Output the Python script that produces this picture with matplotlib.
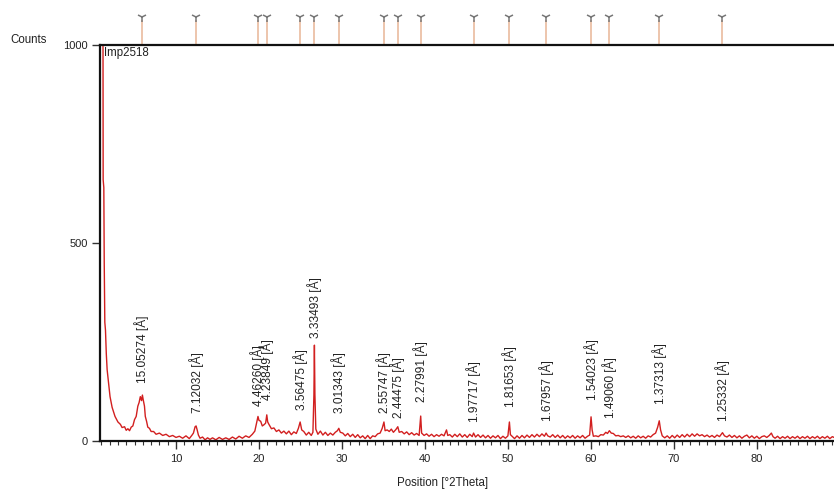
import matplotlib
matplotlib.use("Agg")
import matplotlib.pyplot as plt
from matplotlib.ticker import MultipleLocator, FixedLocator
import matplotlib.transforms as mtransforms

plt.rcParams['font.family'] = ['Liberation Sans', 'DejaVu Sans']

two_theta = [1.00, 1.10, 1.20, 1.22, 1.30, 1.35, 1.42, 1.50, 1.60, 1.70, 1.85, 2.05, 2.30, 2.65, 3.00,
             3.30, 3.50, 3.80, 4.00, 4.20, 4.40, 4.60, 4.80, 5.00, 5.20, 5.40, 5.55, 5.70, 5.85, 5.95,
             6.05, 6.20, 6.30, 6.45, 6.60, 6.80, 7.00, 7.30, 7.60, 8.00, 8.40, 8.80, 9.20, 9.60, 10.0,
             10.4, 10.8, 11.2, 11.6, 11.9, 12.1, 12.3, 12.42, 12.55, 12.7, 12.9, 13.2, 13.5, 13.8, 14.1,
             14.4, 14.8, 15.2, 15.6, 16.0, 16.4, 16.8, 17.2, 17.6, 18.0, 18.4, 18.8, 19.2, 19.5, 19.7,
             19.88, 20.0, 20.2, 20.4, 20.6, 20.8, 20.94, 21.05, 21.2, 21.5, 21.8, 22.1, 22.4, 22.7, 23.0,
             23.3, 23.6, 23.9, 24.2, 24.5, 24.75, 24.96, 25.15, 25.4, 25.7, 26.0, 26.3, 26.5, 26.62, 26.68,
             26.74, 26.85, 27.1, 27.4, 27.7, 28.0, 28.3, 28.6, 28.9, 29.2, 29.45, 29.62, 29.8, 30.1, 30.4,
             30.7, 31.0, 31.3, 31.6, 31.9, 32.2, 32.5, 32.8, 33.1, 33.4, 33.7, 34.0, 34.3, 34.6, 34.85,
             35.06, 35.2, 35.45, 35.7, 35.95, 36.2, 36.5, 36.73, 36.9, 37.2, 37.5, 37.8, 38.1, 38.4, 38.7,
             39.0, 39.3, 39.49, 39.6, 39.9, 40.2, 40.5, 40.8, 41.1, 41.4, 41.7, 42.0, 42.3, 42.6, 42.75,
             43.0, 43.3, 43.6, 43.9, 44.2, 44.5, 44.8, 45.1, 45.4, 45.7, 45.86, 46.1, 46.4, 46.7, 47.0,
             47.3, 47.6, 47.9, 48.2, 48.5, 48.8, 49.1, 49.4, 49.7, 50.0, 50.18, 50.3, 50.5, 50.8, 51.1,
             51.4, 51.7, 52.0, 52.3, 52.6, 52.9, 53.2, 53.5, 53.8, 54.1, 54.4, 54.6, 54.8, 55.1, 55.4,
             55.7, 56.0, 56.3, 56.6, 56.9, 57.2, 57.5, 57.8, 58.1, 58.4, 58.7, 59.0, 59.3, 59.6, 59.85,
             60.02, 60.15, 60.3, 60.6, 60.9, 61.2, 61.5, 61.8, 62.0, 62.23, 62.45, 62.7, 63.0, 63.3, 63.6,
             63.9, 64.2, 64.5, 64.8, 65.1, 65.4, 65.7, 66.0, 66.3, 66.6, 66.9, 67.2, 67.5, 67.8, 68.05,
             68.24, 68.4, 68.6, 68.9, 69.2, 69.5, 69.8, 70.1, 70.4, 70.7, 71.0, 71.3, 71.6, 71.9, 72.2,
             72.5, 72.8, 73.1, 73.4, 73.7, 74.0, 74.3, 74.6, 74.9, 75.2, 75.5, 75.86, 76.1, 76.4, 76.7,
             77.0, 77.3, 77.6, 77.9, 78.2, 78.5, 78.8, 79.1, 79.4, 79.7, 80.0, 80.3, 80.6, 80.9, 81.2,
             81.5, 81.75, 81.95, 82.2, 82.5, 82.8, 83.1, 83.4, 83.7, 84.0, 84.3, 84.6, 84.9, 85.2, 85.5,
             85.8, 86.1, 86.4, 86.7, 87.0, 87.3, 87.6, 87.9, 88.2, 88.5, 88.8, 89.1, 89.4]
counts = [1500, 1300, 1050, 660, 640, 450, 300, 280, 220, 180, 150, 112, 85, 62, 48,
          42, 34, 36, 27, 31, 26, 35, 38, 54, 62, 88, 97, 112, 102, 116,
          104, 88, 62, 50, 35, 32, 24, 24, 17, 20, 14, 17, 11, 14, 9,
          12, 7, 13, 6, 14, 20, 36, 38, 28, 15, 7, 10, 3, 8, 4,
          8, 3, 9, 4, 8, 4, 10, 5, 12, 7, 13, 9, 17, 25, 45,
          62, 52, 50, 38, 41, 45, 66, 48, 42, 31, 33, 24, 28, 20, 25,
          18, 25, 16, 23, 19, 32, 48, 28, 24, 15, 22, 14, 22, 116, 242,
          118, 30, 17, 25, 15, 22, 14, 20, 15, 22, 26, 32, 22, 20, 13,
          19, 11, 17, 9, 16, 8, 13, 6, 14, 6, 13, 11, 18, 20, 32,
          48, 26, 28, 24, 30, 22, 29, 36, 22, 24, 18, 23, 16, 21, 15,
          19, 14, 63, 20, 14, 18, 12, 17, 11, 16, 12, 17, 13, 28, 14,
          16, 10, 17, 11, 18, 10, 16, 9, 17, 11, 20, 10, 16, 9, 15,
          8, 14, 7, 13, 8, 14, 6, 12, 7, 13, 48, 16, 12, 6, 13,
          7, 14, 8, 15, 9, 16, 10, 17, 11, 18, 12, 20, 13, 10, 16,
          9, 15, 8, 14, 7, 13, 8, 14, 7, 13, 8, 14, 7, 12, 15,
          61, 28, 12, 13, 11, 16, 15, 22, 19, 26, 20, 19, 13, 14, 11,
          13, 9, 13, 8, 12, 7, 13, 8, 12, 7, 13, 10, 16, 20, 35,
          51, 28, 13, 8, 13, 7, 14, 8, 15, 9, 16, 10, 17, 11, 18,
          12, 18, 13, 16, 11, 15, 10, 14, 9, 15, 11, 21, 13, 10, 15,
          9, 14, 8, 13, 7, 12, 15, 8, 13, 7, 12, 6, 11, 13, 9,
          14, 20, 11, 7, 12, 6, 11, 7, 12, 6, 11, 7, 12, 6, 11,
          7, 12, 6, 11, 7, 12, 6, 11, 7, 12, 6, 11, 8]

# ---- labelled peaks ----
peak_pos = [5.87, 12.42, 19.88, 20.94, 24.96, 26.68, 29.62, 35.06, 36.73, 39.49,
            45.86, 50.18, 54.60, 60.02, 62.23, 68.24, 75.86]
peak_d = ["15.05274", "7.12032", "4.46260", "4.23849", "3.56475", "3.33493", "3.01343",
          "2.55747", "2.44475", "2.27991", "1.97717", "1.81653", "1.67957", "1.54023",
          "1.49060", "1.37313", "1.25332"]
peak_height = [116, 41, 58, 74, 48, 230, 41, 41, 28, 68, 18, 56, 20, 74, 28, 63, 20]

sample_name = "Imp2518"
x_label = "Position [°2Theta]"
y_label = "Counts"
y_ticks = [0, 500, 1000]
x_ticks = [10, 20, 30, 40, 50, 60, 70, 80]

W, H = 834, 491
fig = plt.figure(figsize=(W / 100, H / 100), dpi=100)
ax = fig.add_axes([100 / W, (H - 441) / H, (W - 100) / W, (441 - 45) / H])

ax.plot(two_theta, counts, color='#d21f1f', lw=1.0, clip_on=True)
ax.set_xlim(0.84, 89.3)
ax.set_ylim(0, 1000)

for s in ['left', 'top', 'bottom']:
    ax.spines[s].set_linewidth(1.6)
    ax.spines[s].set_color('#111111')
ax.spines['right'].set_visible(False)

ax.xaxis.set_major_locator(FixedLocator(x_ticks))
ax.xaxis.set_minor_locator(MultipleLocator(1))
ax.yaxis.set_major_locator(FixedLocator(y_ticks))
ax.tick_params(axis='x', which='major', direction='out', length=6, width=1, color='#333333',
               labelsize=8, pad=3, labelcolor='#222222')
ax.tick_params(axis='x', which='minor', direction='out', length=3, width=0.8, color='#333333')
ax.tick_params(axis='y', which='major', direction='out', length=6, width=1, color='#333333',
               labelsize=8, pad=3, labelcolor='#222222')

# peak labels
for p, d, h in zip(peak_pos, peak_d, peak_height):
    ax.annotate(f"{d} [Å]", xy=(p, h), xytext=(0, 8.6), textcoords='offset points',
                rotation=90, ha='center', va='bottom', fontsize=8.6, color='#222222')

# reference stick markers above the plot
trans = mtransforms.blended_transform_factory(ax.transData, ax.transAxes)
top_line = 1 + 25 / 396
ax.vlines(peak_pos, 1.0, top_line, transform=trans, colors='#e8b596', lw=1.1, clip_on=False, zorder=1)
ax.plot(peak_pos, [1 + 28 / 396] * len(peak_pos), transform=trans, linestyle='none',
        marker='1', markersize=7, markeredgewidth=1.1, color='#777777', clip_on=False)

ax.text(0.005, 0.995, sample_name, transform=ax.transAxes, ha='left', va='top', fontsize=8.3,
        color='#222222')
fig.text(443 / W, (H - 483) / H, x_label, ha='center', va='center', fontsize=8.3, color='#222222')
fig.text(10 / W, (H - 40) / H, y_label, ha='left', va='center', fontsize=8.3, color='#222222')

fig.savefig("out.png", dpi=100)
